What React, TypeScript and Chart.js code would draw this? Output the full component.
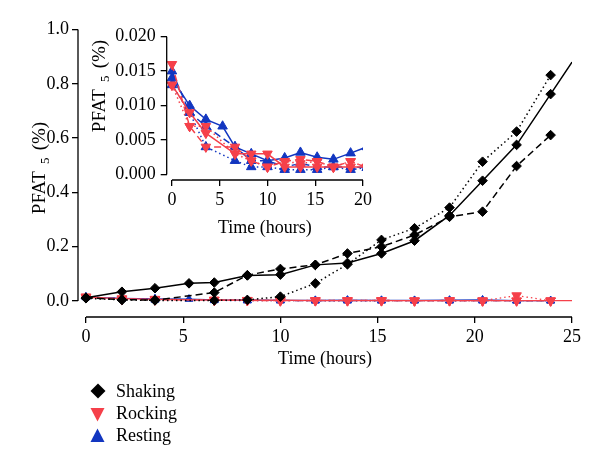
import React, { useEffect, useRef } from "react";
import { Chart, registerables } from "chart.js";
Chart.register(...registerables);

const FONT = "'Liberation Serif', 'Times New Roman', serif";

// ---- data ----
const TIME_H = [0, 1.85, 3.55, 5.3, 6.6, 8.3, 10.0, 11.8, 13.45, 15.2, 16.9, 18.7, 20.4, 22.15, 23.9];

const SHAKING_SOLID = [0.012, 0.034, 0.047, 0.065, 0.068, 0.094, 0.097, 0.133, 0.14, 0.175, 0.222, 0.315, 0.443, 0.575, 0.762];
const SHAKING_DASHED = [0.012, 0.005, 0.003, null, 0.031, 0.095, 0.118, 0.133, 0.175, 0.2, 0.243, 0.31, 0.329, 0.497, 0.611];
const SHAKING_DOTTED = [0.01, 0.004, 0.002, null, 0.002, 0.004, 0.016, 0.065, 0.135, 0.225, 0.268, 0.344, 0.513, 0.624, 0.832];

const ROCKING_SOLID = [0.013, 0.009, 0.006, null, 0.003, 0.003, 0.003, 0.0011, 0.0011, 0.0011, 0.0011, 0.0011, 0.0011, 0.001, 0.001];
const ROCKING_DASHED = [0.016, 0.007, 0.004, null, 0.004, 0.002, 0.0011, 0.0019, 0.0022, 0.0019, 0.0011, 0.0019, 0.001, 0.001, 0.001];
const ROCKING_DOTTED = [0.013, 0.007, 0.007, null, 0.003, 0.002, 0.0011, 0.0019, 0.0016, 0.0019, 0.0011, 0.0019, 0.001, 0.02, 0.001];

const RESTING_SOLID = [0.014, 0.010, 0.008, 0.007, 0.004, 0.003, 0.002, 0.0024, 0.0032, 0.0025, 0.0022, 0.0031, 0.004, 0.001, 0.001];
const RESTING_DASHED = [0.015, 0.009, 0.007, null, 0.004, 0.002, 0.002, 0.0011, 0.0016, 0.0011, 0.0011, 0.0011, 0.001, 0.001, 0.001];
const RESTING_DOTTED = [0.013, 0.009, 0.004, null, 0.002, 0.0011, 0.0011, 0.0007, 0.0007, 0.0007, 0.0011, 0.0007, 0.001, 0.001, 0.001];

// end of the drawn solid curves (beyond the last sample)
const TREND_END_H = 25;
const SHAKING_SOLID_END = 0.88;
const ROCKING_SOLID_END = 0.001;

const MAIN_X_TICKS = [0, 5, 10, 15, 20, 25];
const MAIN_Y_TICKS = [0, 0.2, 0.4, 0.6, 0.8, 1.0];
const INSET_X_TICKS = [0, 5, 10, 15, 20];
const INSET_Y_TICKS = [0, 0.005, 0.01, 0.015, 0.02];

const X_TITLE = "Time (hours)";
const Y_TITLE_PARTS = ["PFAT", "5", "(%)"];
const LEGEND_LABELS = ["Shaking", "Rocking", "Resting"];

const BLACK = "#000000";
const RED = "#f5404a";
const BLUE = "#1236c0";

const SOLID: number[] = [];
const DASHED = [7, 4];
const DOTTED = [1.5, 3];

function series(
  label: string,
  values: (number | null)[],
  color: string,
  dash: number[],
  style: string,
  rot: number,
  radius: number,
  width: number,
  endY?: number
) {
  const data: any[] = TIME_H.map((t, i) => ({ x: t, y: values[i] }));
  if (endY !== undefined) data.push({ x: TREND_END_H, y: endY });
  const n = TIME_H.length;
  return {
    label,
    data,
    borderColor: color,
    backgroundColor: color,
    borderWidth: width,
    borderDash: dash,
    borderCapStyle: "butt",
    spanGaps: true,
    tension: 0,
    pointStyle: style,
    pointRotation: rot,
    pointRadius: (c: any) => (c.dataIndex >= n ? 0 : radius),
    pointHoverRadius: 0,
    pointBorderWidth: 1,
    pointBorderColor: color,
    pointBackgroundColor: color,
  };
}

function drawPfatTitle(ctx: CanvasRenderingContext2D, cx: number, cy: number, size: number) {
  ctx.save();
  ctx.translate(cx, cy);
  ctx.rotate(-Math.PI / 2);
  ctx.fillStyle = "#000";
  ctx.textAlign = "left";
  ctx.textBaseline = "alphabetic";
  const big = `${size}px ${FONT}`;
  const smallSize = Math.round(size * 0.68);
  const small = `${smallSize}px ${FONT}`;
  ctx.font = big;
  const w1 = ctx.measureText(Y_TITLE_PARTS[0]).width;
  const w3 = ctx.measureText(Y_TITLE_PARTS[2]).width;
  ctx.font = small;
  const w2 = ctx.measureText(Y_TITLE_PARTS[1]).width;
  const gap = size * 0.38;
  const total = w1 + gap + w2 + gap + w3;
  let x = -total / 2;
  const base = size * 0.33;
  ctx.font = big;
  ctx.fillText(Y_TITLE_PARTS[0], x, base);
  x += w1 + gap;
  ctx.font = small;
  ctx.fillText(Y_TITLE_PARTS[1], x, base + size * 0.22);
  x += w2 + gap;
  ctx.font = big;
  ctx.fillText(Y_TITLE_PARTS[2], x, base);
  ctx.restore();
}

function axisLinesPlugin(id: string, xFirst: number, xLast: number, yFirst: number, yLast: number, titleX: number, titleY: number) {
  return {
    id,
    afterDraw(chart: any) {
      const { ctx, chartArea, scales } = chart;
      ctx.save();
      ctx.strokeStyle = "#000";
      ctx.lineWidth = 1.3;
      ctx.beginPath();
      ctx.moveTo(scales.x.getPixelForValue(xFirst), chartArea.bottom);
      ctx.lineTo(scales.x.getPixelForValue(xLast), chartArea.bottom);
      ctx.moveTo(chartArea.left, scales.y.getPixelForValue(yFirst));
      ctx.lineTo(chartArea.left, scales.y.getPixelForValue(yLast));
      ctx.stroke();
      ctx.restore();
      drawPfatTitle(ctx, titleX, titleY, 19);
    },
  };
}

const legendPlugin = {
  id: "sideLegend",
  afterDraw(chart: any) {
    const ctx: CanvasRenderingContext2D = chart.ctx;
    ctx.save();
    ctx.fillStyle = BLACK;
    ctx.beginPath();
    ctx.moveTo(98, 383.5);
    ctx.lineTo(105.5, 391);
    ctx.lineTo(98, 398.5);
    ctx.lineTo(90.5, 391);
    ctx.closePath();
    ctx.fill();
    ctx.fillStyle = RED;
    ctx.beginPath();
    ctx.moveTo(90.5, 408);
    ctx.lineTo(104.5, 408);
    ctx.lineTo(97.5, 421.5);
    ctx.closePath();
    ctx.fill();
    ctx.fillStyle = BLUE;
    ctx.beginPath();
    ctx.moveTo(97.5, 428.5);
    ctx.lineTo(104.5, 442);
    ctx.lineTo(90.5, 442);
    ctx.closePath();
    ctx.fill();
    ctx.fillStyle = "#000";
    ctx.font = `18px ${FONT}`;
    ctx.textAlign = "left";
    ctx.textBaseline = "alphabetic";
    ctx.fillText(LEGEND_LABELS[0], 116, 397);
    ctx.fillText(LEGEND_LABELS[1], 116, 419);
    ctx.fillText(LEGEND_LABELS[2], 116, 441);
    ctx.restore();
  },
};

function axisOpts(ticksList: number[], min: number, max: number, fmt: (v: number) => string, size: number, isX: boolean, pad: number, title?: any) {
  return {
    type: "linear",
    min,
    max,
    afterFit: (s: any) => {
      if (isX) s.height = size;
      else s.width = size;
    },
    afterBuildTicks: (s: any) => {
      s.ticks = ticksList.map((v) => ({ value: v }));
    },
    ticks: {
      font: { family: FONT, size: 18 },
      color: "#000",
      padding: pad,
      maxRotation: 0,
      autoSkip: false,
      includeBounds: false,
      callback: (v: any) => fmt(Number(v)),
    },
    grid: { drawOnChartArea: false, drawTicks: true, tickLength: 6, color: "#000", lineWidth: 1.3 },
    border: { display: false },
    title: title || { display: false },
  };
}

export default function App() {
  const mainRef = useRef<HTMLCanvasElement>(null);
  const insetRef = useRef<HTMLCanvasElement>(null);

  useEffect(() => {
    const mainDatasets = [
      series("Shaking 1", SHAKING_SOLID, BLACK, SOLID, "rectRot", 0, 4.8, 1.5, SHAKING_SOLID_END),
      series("Shaking 2", SHAKING_DASHED, BLACK, DASHED, "rectRot", 0, 4.8, 1.5),
      series("Shaking 3", SHAKING_DOTTED, BLACK, DOTTED, "rectRot", 0, 4.8, 1.5),
      series("Rocking 1", ROCKING_SOLID, RED, SOLID, "triangle", 180, 5.5, 1.3, ROCKING_SOLID_END),
      series("Rocking 2", ROCKING_DASHED, RED, DASHED, "triangle", 180, 5.5, 1.3),
      series("Rocking 3", ROCKING_DOTTED, RED, DOTTED, "triangle", 180, 5.5, 1.3),
      series("Resting 1", RESTING_SOLID, BLUE, SOLID, "triangle", 0, 4.5, 1.2),
      series("Resting 2", RESTING_DASHED, BLUE, DASHED, "triangle", 0, 4.5, 1.2),
      series("Resting 3", RESTING_DOTTED, BLUE, DOTTED, "triangle", 0, 4.5, 1.2),
    ];
    const insetDatasets = [
      series("Rocking 1", ROCKING_SOLID, RED, SOLID, "triangle", 180, 5.5, 1.5, ROCKING_SOLID_END),
      series("Rocking 2", ROCKING_DASHED, RED, DASHED, "triangle", 180, 5.5, 1.5),
      series("Rocking 3", ROCKING_DOTTED, RED, DOTTED, "triangle", 180, 5.5, 1.5),
      series("Resting 1", RESTING_SOLID, BLUE, SOLID, "triangle", 0, 5.5, 1.5),
      series("Resting 2", RESTING_DASHED, BLUE, DASHED, "triangle", 0, 5.5, 1.5),
      series("Resting 3", RESTING_DOTTED, BLUE, DOTTED, "triangle", 0, 5.5, 1.5),
    ];

    const main = new Chart(mainRef.current as HTMLCanvasElement, {
      type: "line",
      data: { datasets: mainDatasets as any },
      options: {
        responsive: false,
        animation: false,
        events: [],
        layout: { padding: { left: 8, top: 29.5, right: 28, bottom: 91 } },
        plugins: { legend: { display: false }, tooltip: { enabled: false } },
        scales: {
          x: axisOpts(MAIN_X_TICKS, -0.41, 25, (v) => String(v), 62, true, 3, {
            display: true,
            text: X_TITLE,
            font: { family: FONT, size: 18 },
            color: "#000",
            padding: { top: 0, bottom: 9 },
          }),
          y: axisOpts(MAIN_Y_TICKS, -0.059, 1.0, (v) => v.toFixed(1), 70, false, 3),
        } as any,
      },
      plugins: [axisLinesPlugin("mainAxes", 0, 25, 0, 1.0, 39, 168), legendPlugin],
    });

    const inset = new Chart(insetRef.current as HTMLCanvasElement, {
      type: "line",
      data: { datasets: insetDatasets as any },
      options: {
        responsive: false,
        animation: false,
        events: [],
        layout: { padding: { left: 26.7, top: 16.7, right: 17, bottom: 10 } },
        plugins: { legend: { display: false }, tooltip: { enabled: false } },
        scales: {
          x: axisOpts(INSET_X_TICKS, -0.55, 20, (v) => String(v), 60, true, 3, {
            display: true,
            text: X_TITLE,
            font: { family: FONT, size: 18 },
            color: "#000",
            padding: { top: 0, bottom: 1 },
          }),
          y: axisOpts(INSET_Y_TICKS, -0.0008, 0.02, (v) => v.toFixed(3), 60, false, 5),
        } as any,
      },
      plugins: [axisLinesPlugin("insetAxes", 0, 20, 0, 0.02, 19, 66)],
    });

    return () => {
      main.destroy();
      inset.destroy();
    };
  }, []);

  return (
    <div style={{ position: "absolute", left: 0, top: 0, width: 600, height: 470, background: "#fff" }}>
      <canvas ref={mainRef} width={600} height={470} style={{ position: "absolute", left: 0, top: 0 }} />
      <canvas ref={insetRef} width={300} height={230} style={{ position: "absolute", left: 80, top: 20 }} />
    </div>
  );
}
